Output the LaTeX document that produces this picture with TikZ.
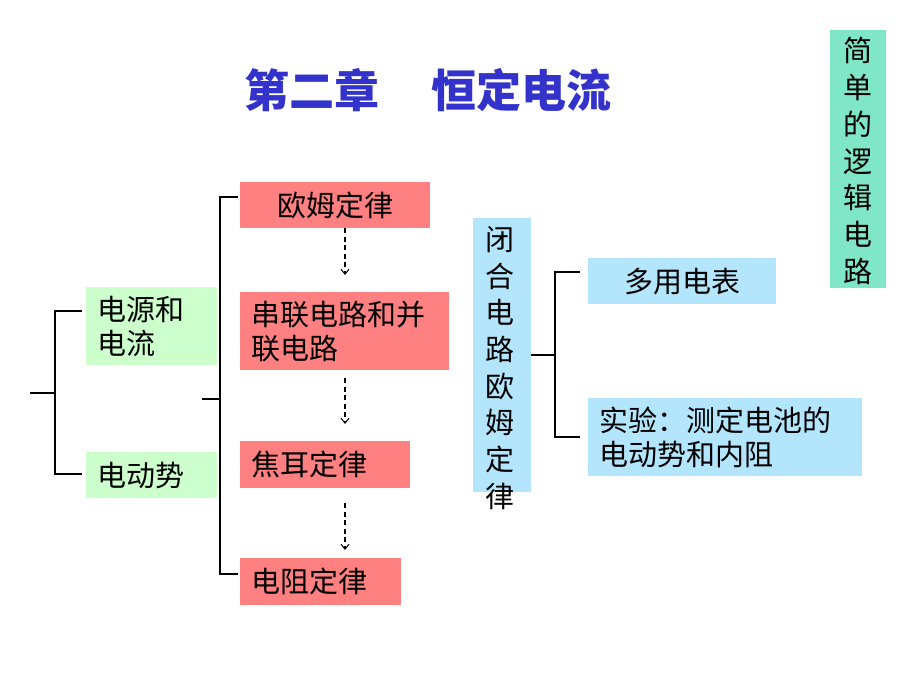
\documentclass[tikz,border=0pt]{standalone}
\usepackage{fontspec}
\newfontfamily\cjk{Noto Sans CJK SC}
\usetikzlibrary{arrows.meta}
\definecolor{redfill}{RGB}{255,128,128}
\definecolor{greenfill}{RGB}{204,255,204}
\definecolor{bluefill}{RGB}{179,229,252}
\definecolor{tealfill}{RGB}{128,230,200}
\definecolor{titleblue}{RGB}{51,51,204}
\tikzset{
  box/.style={rectangle, anchor=north west, inner sep=0pt, font=\cjk\fontsize{29}{34}\selectfont},
  ctext/.style={box, align=center},
  ltext/.style={box, align=left, inner xsep=11pt},
  bline/.style={line width=1.7pt, black},
  dasharrow/.style={line width=1.1pt, dash pattern=on 5pt off 3.5pt, -{Straight Barb[length=5pt,width=8pt,line width=1pt]}},
  vtext/.style={font=\cjk\fontsize{29}{36.7}\selectfont, align=center, inner sep=0pt}
}
\begin{document}
\begin{tikzpicture}[x=1pt,y=-1pt]
\useasboundingbox (0,0) rectangle (920,690);
\fill[white] (0,0) rectangle (920,690);
% title
\node[font=\cjk\bfseries\fontsize{45}{50}\selectfont, text=titleblue, anchor=west, inner sep=0pt] (title) at (244,90) {第二章\hspace{52pt}恒定电流};
% right vertical box
\node[box, fill=tealfill, minimum width=56pt, minimum height=258pt] (logic) at (830,30) {};
\node[vtext] (logict) at (858,161) {简\\单\\的\\逻\\辑\\电\\路};
% red boxes
\node[ctext, fill=redfill, minimum width=190pt, minimum height=46pt] (ohm) at (240,182) {欧姆定律};
\node[ltext, fill=redfill, text width=187pt, minimum height=78pt] (series) at (240,292) {串联电路和并\\联电路};
\node[ltext, fill=redfill, text width=148pt, minimum height=47pt] (joule) at (240,441) {焦耳定律};
\node[ltext, fill=redfill, text width=139pt, minimum height=47pt] (resist) at (240,558) {电阻定律};
% green boxes
\node[ltext, fill=greenfill, text width=109pt, minimum height=78pt] (source) at (86,287) {电源和\\电流};
\node[ltext, fill=greenfill, text width=109pt, minimum height=46pt] (emf) at (86,452) {电动势};
% blue boxes
\node[box, fill=bluefill, minimum width=58pt, minimum height=274pt] (closed) at (473,218) {};
\node[vtext] (closedt) at (500,368) {闭\\合\\电\\路\\欧\\姆\\定\\律};
\node[ctext, fill=bluefill, minimum width=188pt, minimum height=46pt] (meter) at (588,258) {多用电表};
\node[ltext, fill=bluefill, text width=252pt, minimum height=78pt] (exper) at (588,398) {实验：测定电池的\\电动势和内阻};
% left bracket
\coordinate (lstem) at (30,393);
\coordinate (lv) at (55,393);
\coordinate (lt) at (82,311);
\coordinate (lb) at (82,474);
\draw[bline] (lstem) -- (lv);
\draw[bline] (lt) -- (lt -| lv) -- (lb -| lv) -- (lb);
% middle bracket
\coordinate (mstem) at (202,399);
\coordinate (mv) at (220,399);
\coordinate (mt) at (238,197);
\coordinate (mb) at (238,574);
\draw[bline] (mstem) -- (mv);
\draw[bline] (mt) -- (mt -| mv) -- (mb -| mv) -- (mb);
% right bracket
\coordinate (rv) at (555,355);
\coordinate (rt) at (580,272);
\coordinate (rb) at (580,437);
\draw[bline] (closed.east |- rv) -- (rv);
\draw[bline] (rt) -- (rt -| rv) -- (rb -| rv) -- (rb);
% dashed arrows
\coordinate (ax) at (345,0);
\draw[dasharrow] (ohm.south -| ax) -- ([yshift=17pt]series.north -| ax);
\draw[dasharrow] ([yshift=-8pt]series.south -| ax) -- ([yshift=17pt]joule.north -| ax);
\draw[dasharrow] ([yshift=-15pt]joule.south -| ax) -- ([yshift=8pt]resist.north -| ax);
\end{tikzpicture}
\end{document}
